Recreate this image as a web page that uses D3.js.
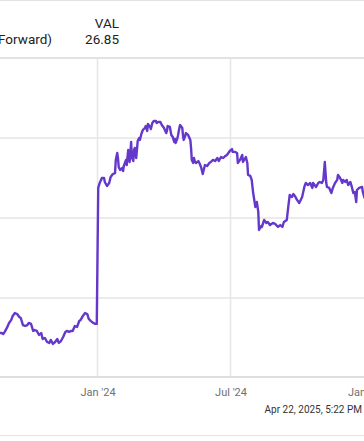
<!DOCTYPE html>
<html>
<head>
<meta charset="utf-8">
<script src="https://cdn.jsdelivr.net/npm/d3@7"></script>
<style>
  html, body { margin: 0; padding: 0; background: #fff; overflow: hidden; }
  svg { display: block; font-family: Roboto, "Noto Sans", sans-serif; }
</style>
</head>
<body>
<div id="chart"></div>
<script>
// ---- data (VAL PE Ratio (Forward)) ----
const seriesTicker = "VAL";
const seriesName = "PE Ratio (Forward)";
const latestValue = "26.85";
const stampText = "Apr 22, 2025, 5:22 PM";

const dates = [
  "2023-08-20","2023-08-23","2023-08-25","2023-08-27","2023-08-30",
  "2023-09-02","2023-09-05","2023-09-07","2023-09-10","2023-09-13","2023-09-16","2023-09-18","2023-09-21","2023-09-24","2023-09-27","2023-09-29",
  "2023-10-02","2023-10-05","2023-10-07","2023-10-10","2023-10-13","2023-10-16","2023-10-18","2023-10-21","2023-10-24","2023-10-27","2023-10-29",
  "2023-11-01","2023-11-04","2023-11-07","2023-11-09","2023-11-12","2023-11-15","2023-11-18","2023-11-20","2023-11-23","2023-11-26","2023-11-28",
  "2023-12-01","2023-12-04","2023-12-07","2023-12-09","2023-12-12","2023-12-15","2023-12-18","2023-12-20","2023-12-23","2023-12-26","2023-12-29","2023-12-31",
  "2024-01-02","2024-01-04","2024-01-07","2024-01-10","2024-01-11","2024-01-14","2024-01-17","2024-01-19","2024-01-22","2024-01-25","2024-01-26","2024-01-28","2024-01-29","2024-01-30",
  "2024-02-01","2024-02-04","2024-02-05","2024-02-06","2024-02-09","2024-02-10","2024-02-12","2024-02-13","2024-02-14","2024-02-16","2024-02-17","2024-02-19","2024-02-20","2024-02-21","2024-02-23","2024-02-25","2024-02-27","2024-02-28",
  "2024-03-01","2024-03-03","2024-03-06","2024-03-07","2024-03-09","2024-03-10","2024-03-13","2024-03-14","2024-03-16","2024-03-18","2024-03-21","2024-03-22","2024-03-24","2024-03-27","2024-03-29",
  "2024-04-01","2024-04-04","2024-04-05","2024-04-06","2024-04-09","2024-04-11","2024-04-13","2024-04-15","2024-04-16","2024-04-17","2024-04-19","2024-04-20","2024-04-22","2024-04-23","2024-04-26","2024-04-27","2024-04-28","2024-04-30",
  "2024-05-01","2024-05-04","2024-05-07","2024-05-08","2024-05-09","2024-05-11","2024-05-12","2024-05-13","2024-05-15","2024-05-18","2024-05-20","2024-05-22","2024-05-24","2024-05-26","2024-05-27","2024-05-30",
  "2024-06-02","2024-06-04","2024-06-07","2024-06-10","2024-06-13","2024-06-15","2024-06-18","2024-06-21","2024-06-24","2024-06-26","2024-06-28","2024-06-30",
  "2024-07-03","2024-07-04","2024-07-07","2024-07-10","2024-07-11","2024-07-14","2024-07-17","2024-07-18","2024-07-22","2024-07-24","2024-07-25","2024-07-28","2024-07-30",
  "2024-08-01","2024-08-04","2024-08-06","2024-08-08","2024-08-09","2024-08-12","2024-08-13","2024-08-16","2024-08-19","2024-08-21","2024-08-24","2024-08-28","2024-08-31",
  "2024-09-04","2024-09-07","2024-09-10","2024-09-12","2024-09-16","2024-09-18","2024-09-20","2024-09-23","2024-09-25","2024-09-27","2024-09-30",
  "2024-10-03","2024-10-07","2024-10-10","2024-10-12","2024-10-15","2024-10-18","2024-10-21","2024-10-22","2024-10-26","2024-10-29","2024-10-31",
  "2024-11-03","2024-11-05","2024-11-07","2024-11-09","2024-11-10","2024-11-13","2024-11-16","2024-11-18","2024-11-21","2024-11-24","2024-11-25","2024-11-28",
  "2024-12-01","2024-12-02","2024-12-05","2024-12-07","2024-12-09","2024-12-12","2024-12-14","2024-12-16","2024-12-18","2024-12-20","2024-12-21","2024-12-24","2024-12-28","2024-12-29","2024-12-31",
  "2025-01-02"
];

const values = [
  17.81,17.81,17.75,17.88,18.13,
  18.44,18.63,18.88,19.06,19.0,18.81,18.75,18.31,18.25,18.31,18.44,
  18.38,17.94,18.0,17.94,17.69,17.81,17.44,17.5,17.25,17.19,17.38,
  17.13,17.25,17.44,17.19,17.31,17.56,17.88,17.94,17.88,17.94,17.94,
  18.25,18.19,18.56,18.63,18.88,19.06,19.0,18.69,18.56,18.44,18.38,18.38,
  26.88,27.19,27.5,27.5,27.25,27.0,27.19,27.56,27.75,27.81,28.63,29.06,28.75,28.19,
  28.0,28.13,27.94,28.25,28.63,28.31,29.25,28.75,28.5,29.75,28.81,28.56,29.25,29.38,28.75,29.81,30.0,29.88,
  30.25,30.5,30.63,30.75,30.44,30.88,30.69,30.56,30.94,31.06,31.06,30.94,31.0,31.0,30.81,
  30.63,30.31,30.44,30.75,30.69,30.19,30.06,29.75,29.94,29.69,29.94,30.13,30.63,30.81,30.63,30.13,29.88,30.13,
  30.31,30.19,29.88,29.38,28.63,28.44,28.75,28.56,28.44,28.56,28.38,28.13,27.75,28.13,28.31,28.25,
  28.44,28.5,28.63,28.56,28.75,28.56,28.81,28.75,28.88,28.94,29.06,29.19,
  29.31,29.13,29.13,29.06,28.44,28.63,28.94,28.5,28.81,28.44,27.69,27.63,27.38,
  26.56,25.69,26.0,25.38,24.25,24.5,24.44,24.88,24.69,24.75,24.56,24.69,24.63,
  24.44,24.56,24.44,24.75,24.88,25.69,26.44,26.31,26.5,26.38,26.13,
  25.94,26.31,26.94,27.19,27.06,27.19,26.88,27.19,26.94,27.19,27.25,
  27.19,27.38,28.5,27.19,26.94,26.88,26.56,26.88,27.19,27.38,27.69,27.5,
  27.19,27.38,27.25,27.38,27.06,27.25,26.94,26.56,26.63,26.0,26.75,26.88,26.94,26.63,26.31,
  26.13
];

const xTickDates = ["2024-01-01", "2024-07-01", "2025-01-01"];
const xTickLabels = ["Jan '24", "Jul '24", "Jan '25"];
const yTicks = [15, 20, 25, 30, 35];

// ---- drawing ----
const W = 364, H = 441;
const parse = d3.timeParse("%Y-%m-%d");
const n = Math.min(dates.length, values.length);
const data = d3.range(n).map(i => ({ date: parse(dates[i]), value: values[i] }));

const svg = d3.select("#chart").append("svg")
  .attr("width", W).attr("height", H);

const plotTop = 59, plotBottom = 377;

const x = d3.scaleTime()
  .domain([parse("2023-08-21"), parse("2025-01-01")])
  .range([0.3, 365]);
const y = d3.scaleLinear()
  .domain([15, 35])
  .range([378, 58]);

// frame lines
svg.append("line").attr("x1", 0).attr("x2", W).attr("y1", 0.5).attr("y2", 0.5)
  .attr("stroke", "#e3e3e3").attr("stroke-width", 1);
svg.append("line").attr("x1", 0).attr("x2", W).attr("y1", 435.5).attr("y2", 435.5)
  .attr("stroke", "#e6e6e6").attr("stroke-width", 1);

// header
svg.append("text").attr("x", 119).attr("y", 28).attr("text-anchor", "end")
  .attr("font-size", 13.5).attr("fill", "#222").text(seriesTicker);
svg.append("text").attr("x", 119).attr("y", 44).attr("text-anchor", "end")
  .attr("font-size", 13.5).attr("fill", "#222").text(latestValue);
svg.append("text").attr("x", 52).attr("y", 44).attr("text-anchor", "end")
  .attr("font-size", 13.5).attr("fill", "#222").text(seriesName);

// horizontal grid
svg.append("g").selectAll("line").data(yTicks.filter(t => t > 15 && t < 35)).join("line")
  .attr("x1", 0).attr("x2", W)
  .attr("y1", d => y(d)).attr("y2", d => y(d))
  .attr("stroke", "#ebebeb").attr("stroke-width", 2);

// vertical grid
svg.append("g").selectAll("line").data(xTickDates).join("line")
  .attr("x1", d => x(parse(d))).attr("x2", d => x(parse(d)))
  .attr("y1", plotTop).attr("y2", plotBottom)
  .attr("stroke", "#e6e6e6").attr("stroke-width", 1.5);

// header separator (top of plot)
svg.append("line").attr("x1", 0).attr("x2", W).attr("y1", y(35)).attr("y2", y(35))
  .attr("stroke", "#e2e2e2").attr("stroke-width", 2);

// x axis
const xAxis = d3.axisBottom(x)
  .tickValues(xTickDates.map(parse))
  .tickFormat((d, i) => xTickLabels[i])
  .tickSize(0).tickPadding(0);
const gx = svg.append("g").attr("transform", `translate(0,${plotBottom})`).call(xAxis);
gx.select(".domain").remove();
gx.selectAll("text").attr("dy", null).attr("y", 19)
  .attr("font-family", "Roboto, sans-serif").attr("font-size", 11).attr("fill", "#707070");
svg.append("line").attr("x1", 0).attr("x2", W).attr("y1", plotBottom).attr("y2", plotBottom)
  .attr("stroke", "#dedede").attr("stroke-width", 2);

// series line
const line = d3.line().x(d => x(d.date)).y(d => y(d.value));
svg.append("path").datum(data)
  .attr("d", line)
  .attr("fill", "none")
  .attr("stroke", "#6538cc")
  .attr("stroke-width", 2.4)
  .attr("stroke-linejoin", "round");

// timestamp
svg.append("text").attr("x", 362).attr("y", 413).attr("text-anchor", "end")
  .attr("font-size", 10).attr("fill", "#333").text(stampText);
</script>
</body>
</html>
